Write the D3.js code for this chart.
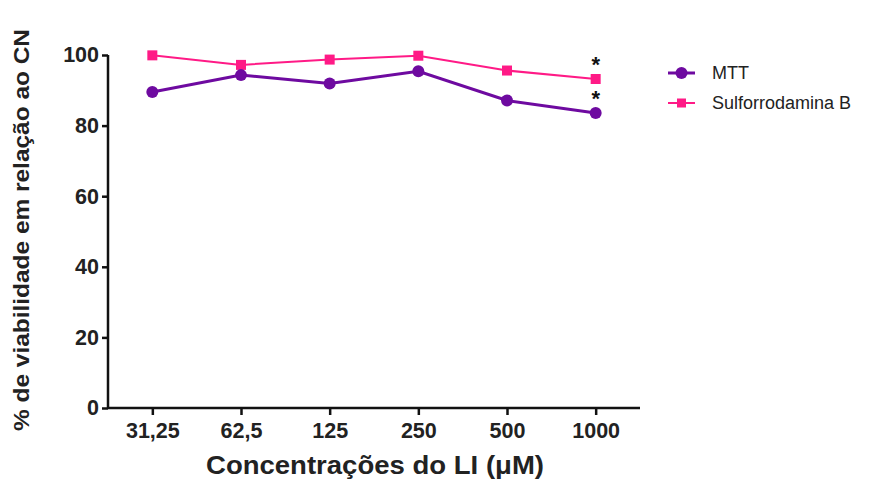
<!DOCTYPE html>
<html lang="pt">
<head>
    <meta charset="UTF-8">
    <title>Viabilidade celular</title>
    <script src="https://cdn.jsdelivr.net/npm/d3@7"></script>
    <style>
        body { margin: 0; background: #fff; }
        text { font-family: "Liberation Sans", Arial, sans-serif; }
    </style>
</head>
<body>
    <script>
        // data
        var concentrations = ['31,25', '62,5', '125', '250', '500', '1000'];
        var mtt = [89.5, 94.3, 91.9, 95.4, 87.1, 83.6];
        var srb = [99.9, 97.2, 98.7, 99.8, 95.6, 93.2];
        var significant = [false, false, false, false, false, true];
        var yTicks = [0, 20, 40, 60, 80, 100];

        var w = 880;
        var h = 482;
        var plotLeft = 108, plotRight = 640, plotTop = 55, plotBottom = 408;

        var svg = d3.select('body')
                    .append('svg')
                    .attr('width', w)
                    .attr('height', h);

        var xScale = d3.scalePoint()
                        .domain(concentrations)
                        .range([plotLeft, plotRight])
                        .padding(0.5);

        var yScale = d3.scaleLinear()
                        .domain([0, 100])
                        .range([plotBottom, plotTop]);

        // axes
        var xAxis = d3.axisBottom(xScale).tickSize(7).tickPadding(8);
        var yAxis = d3.axisLeft(yScale).tickValues(yTicks).tickSize(6).tickPadding(3);

        var gx = svg.append('g')
            .attr('transform', 'translate(0,' + plotBottom + ')')
            .call(xAxis);
        var gy = svg.append('g')
            .attr('transform', 'translate(' + plotLeft + ',0)')
            .call(yAxis);

        [gx, gy].forEach(function(g) {
            g.select('.domain').attr('stroke', '#111').attr('stroke-width', 2.5);
            g.selectAll('.tick line').attr('stroke', '#111').attr('stroke-width', 2.5);
            g.selectAll('.tick text')
                .attr('fill', '#222')
                .style('font-size', '21.5px')
                .style('font-weight', 'bold');
        });
        // domain paths without the outer tick ends
        gx.select('.domain').attr('d', 'M' + plotLeft + ',0H' + plotRight);
        gy.select('.domain').attr('d', 'M0,' + plotTop + 'V' + plotBottom);

        // axis titles
        svg.append('text')
            .attr('x', 375)
            .attr('y', 474)
            .attr('text-anchor', 'middle')
            .attr('textLength', 338)
            .attr('lengthAdjust', 'spacingAndGlyphs')
            .attr('fill', '#222')
            .style('font-size', '25px')
            .style('font-weight', 'bold')
            .text('Concentrações do LI (μM)');

        svg.append('text')
            .attr('transform', 'translate(29,' + 230 + ') rotate(-90)')
            .attr('text-anchor', 'middle')
            .attr('textLength', 402)
            .attr('lengthAdjust', 'spacingAndGlyphs')
            .attr('fill', '#222')
            .style('font-size', '22px')
            .style('font-weight', 'bold')
            .text('% de viabilidade em relação ao CN');

        var pink = '#ff1a86';
        var purple = '#6e0aa0';

        var line = d3.line()
            .x(function(d, i) { return xScale(concentrations[i]); })
            .y(function(d) { return yScale(d); });

        // sulforrodamina B
        svg.append('path')
            .datum(srb)
            .attr('fill', 'none')
            .attr('stroke', pink)
            .attr('stroke-width', 2)
            .attr('d', line);

        // MTT
        svg.append('path')
            .datum(mtt)
            .attr('fill', 'none')
            .attr('stroke', purple)
            .attr('stroke-width', 3)
            .attr('d', line);

        svg.selectAll('.sq')
            .data(srb)
            .enter()
            .append('rect')
            .attr('class', 'sq')
            .attr('x', function(d, i) { return xScale(concentrations[i]) - 5; })
            .attr('y', function(d) { return yScale(d) - 5; })
            .attr('width', 10)
            .attr('height', 10)
            .attr('fill', pink);

        svg.selectAll('.dot')
            .data(mtt)
            .enter()
            .append('circle')
            .attr('class', 'dot')
            .attr('cx', function(d, i) { return xScale(concentrations[i]); })
            .attr('cy', function(d) { return yScale(d); })
            .attr('r', 6)
            .attr('fill', purple);

        // significance marks
        [srb, mtt].forEach(function(series) {
            svg.selectAll(null)
                .data(series.filter(function(d, i) { return significant[i]; }))
                .enter()
                .append('text')
                .attr('x', xScale(concentrations[significant.indexOf(true)]))
                .attr('y', function(d) { return yScale(d) - 7; })
                .attr('text-anchor', 'middle')
                .attr('fill', '#111')
                .style('font-size', '22px')
                .style('font-weight', 'bold')
                .text('*');
        });

        // legend
        var legend = [
            {name: 'MTT', color: purple, shape: 'circle', width: 3},
            {name: 'Sulforrodamina B', color: pink, shape: 'square', width: 2}
        ];
        var lg = svg.selectAll('.legend')
            .data(legend)
            .enter()
            .append('g')
            .attr('transform', function(d, i) { return 'translate(668,' + (73 + i * 30) + ')'; });
        lg.append('line')
            .attr('x1', 0).attr('x2', 27)
            .attr('stroke', function(d) { return d.color; })
            .attr('stroke-width', function(d) { return d.width; });
        lg.filter(function(d) { return d.shape === 'circle'; })
            .append('circle')
            .attr('cx', 13.5).attr('r', 6)
            .attr('fill', function(d) { return d.color; });
        lg.filter(function(d) { return d.shape === 'square'; })
            .append('rect')
            .attr('x', 9).attr('y', -4.5).attr('width', 9).attr('height', 9)
            .attr('fill', function(d) { return d.color; });
        lg.append('text')
            .attr('x', 44)
            .attr('dy', '0.35em')
            .attr('fill', '#222')
            .style('font-size', '18px')
            .text(function(d) { return d.name; });
    </script>
</body>
</html>
